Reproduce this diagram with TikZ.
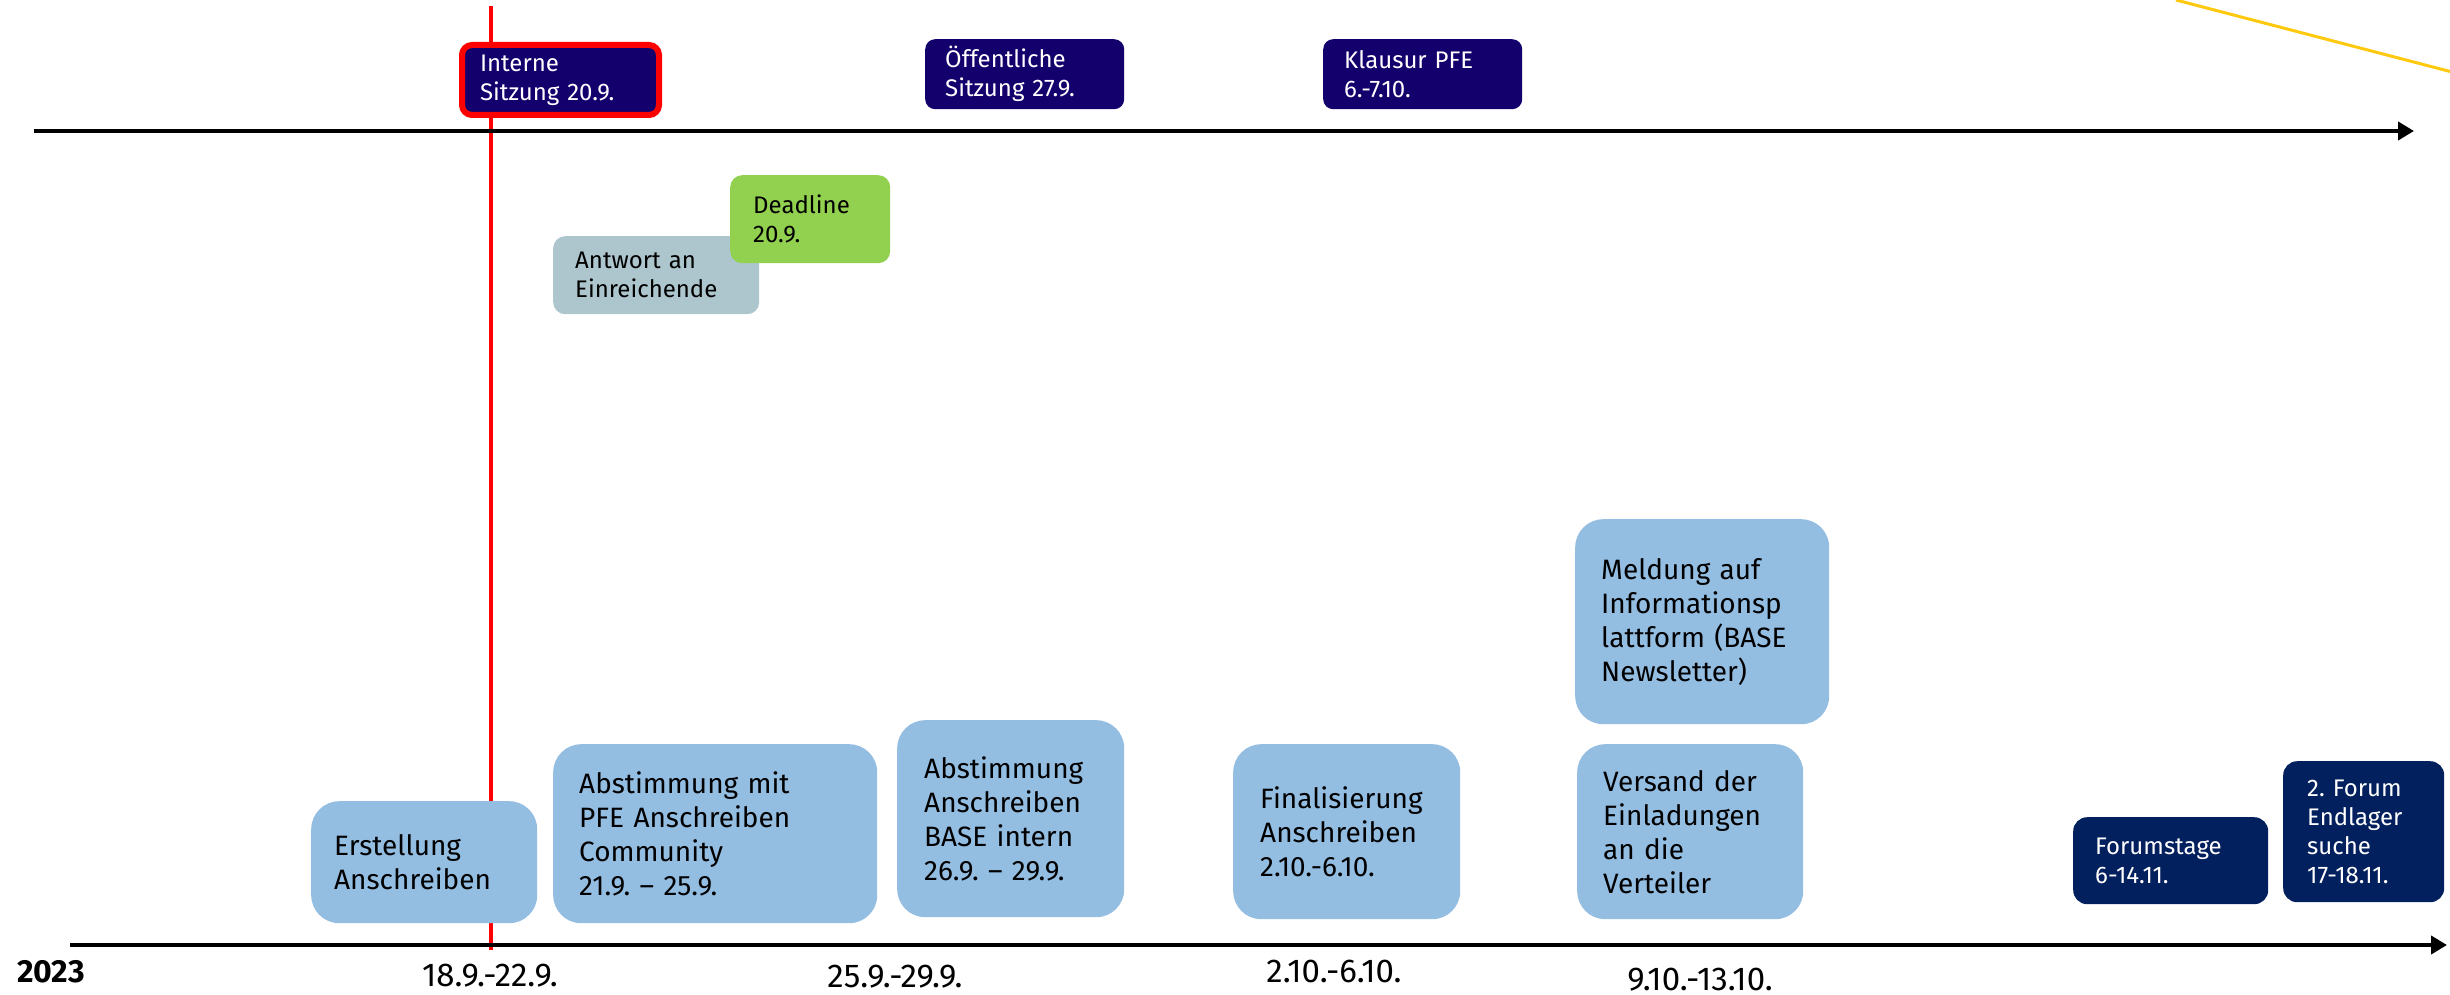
\documentclass[tikz,border=0pt]{standalone}
\usepackage{fontspec}
\setmainfont{Fira Sans}
\usetikzlibrary{arrows.meta}
\definecolor{taskblue}{HTML}{94BDE2}
\definecolor{meetviolet}{HTML}{14006C}
\definecolor{forumnavy}{HTML}{03205E}
\definecolor{deadgreen}{HTML}{92D050}
\definecolor{answergray}{HTML}{ADC6CD}
\definecolor{markred}{HTML}{FF0000}
\definecolor{markyellow}{HTML}{FFC90E}
\tikzset{%
  axis/.style = {line width=4pt,-{Triangle[length=16pt,width=18pt]}},
  task/.style = {rectangle,fill=taskblue,rounded corners=28pt,anchor=north west,
        align=left,font=\fontsize{28}{34}\selectfont},
  meet/.style = {rectangle,fill=meetviolet,text=white,rounded corners=10pt,
        anchor=north west,align=left,font=\fontsize{24}{29}\selectfont},
  forum/.style = {meet,fill=forumnavy,rounded corners=14pt},
  note/.style = {rectangle,rounded corners=12pt,anchor=north west,
        align=left,font=\fontsize{24}{29}\selectfont},
  week/.style = {font=\fontsize{33}{36}\selectfont}
}
\frenchspacing

\begin{document}
\begin{tikzpicture}[x=1pt,y=-1pt]
\useasboundingbox (0,0) rectangle (2450,995);
% markers
\coordinate (y0) at (2176,0);
\coordinate (y1) at (2452,72);
\draw[markyellow,line width=3pt] (y0) -- (y1);
\coordinate (r0) at (491,6);
\coordinate (r1) at (491,950);
\draw[markred,line width=4.5pt] (r0) -- (r1);
% time axes
\coordinate (top0) at (34,131);
\coordinate (top1) at (2414,131);
\draw[axis] (top0) -- (top1);
\coordinate (bot0) at (70,945);
\coordinate (bot1) at (2447,945);
\draw[axis] (bot0) -- (bot1);
% meetings
\node[meet,draw=markred,line width=6pt,minimum width=197pt,minimum height=70pt,
      text width=161pt,inner xsep=18pt] (intern) at (459,42) {Interne\\Sitzung 20.9.};
\node[meet,minimum width=199pt,minimum height=70pt,text width=159pt,inner xsep=20pt]
      (public) at (925,39) {Öffentliche\\Sitzung 27.9.};
\node[meet,minimum width=199pt,minimum height=70pt,text width=157pt,inner xsep=21pt]
      (retreat) at (1323,39) {Klausur PFE\\6.-7.10.};
% deadline
\node[note,fill=answergray,minimum width=206pt,minimum height=78pt,text width=162pt,
      inner xsep=22pt] (answer) at (553,236) {Antwort an\\Einreichende};
\node[note,fill=deadgreen,minimum width=160pt,minimum height=88pt,text width=114pt,
      inner xsep=23pt] (deadline) at (730,175) {Deadline\\20.9.};
% tasks
\node[task,minimum width=226pt,minimum height=122pt,text width=180pt,inner xsep=23pt]
      (draft) at (311,801) {Erstellung\\Anschreiben};
\node[task,minimum width=324pt,minimum height=179pt,text width=272pt,inner xsep=26pt]
      (agree1) at (553,744) {Abstimmung mit\\PFE Anschreiben\\Community\\21.9. – 25.9.};
\node[task,minimum width=227pt,minimum height=197pt,text width=173pt,inner xsep=27pt]
      (agree2) at (897,720) {Abstimmung\\Anschreiben\\BASE intern\\26.9. – 29.9.};
\node[task,minimum width=227pt,minimum height=175pt,text width=173pt,inner xsep=27pt]
      (final) at (1233,744) {Finalisierung\\Anschreiben\\2.10.-6.10.};
\node[task,minimum width=254pt,minimum height=205pt,text width=202pt,inner xsep=26pt]
      (notice) at (1575,519) {Meldung auf\\Informationsp\\lattform (BASE\\Newsletter)};
\node[task,minimum width=226pt,minimum height=175pt,text width=174pt,inner xsep=26pt]
      (mailing) at (1577,744) {Versand der\\Einladungen\\an die\\Verteiler};
% forum
\node[forum,minimum width=195pt,minimum height=87pt,text width=151pt,inner xsep=22pt]
      (forumdays) at (2073,817) {Forumstage\\6-14.11.};
\node[forum,minimum width=161pt,minimum height=141pt,text width=113pt,inner xsep=24pt]
      (forum2) at (2283,761) {2. Forum\\Endlager\\suche\\17-18.11.};
% weeks
\node[week,font=\fontsize{32}{36}\selectfont\bfseries] (year) at (51,972) {2023};
\node[week] (w1) at (490,976) {18.9.-22.9.};
\node[week] (w2) at (895,977) {25.9.-29.9.};
\node[week] (w3) at (1334,971) {2.10.-6.10.};
\node[week] (w4) at (1700,980) {9.10.-13.10.};
\end{tikzpicture}
\end{document}
